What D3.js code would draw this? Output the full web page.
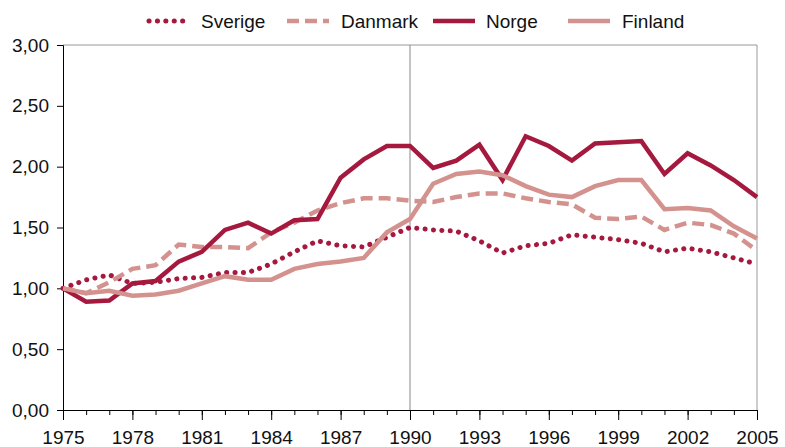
<!DOCTYPE html>
<html>
<head>
<meta charset="utf-8">
<script src="https://d3js.org/d3.v7.min.js"></script>
<style>
  body { margin: 0; background: #fff; }
  svg text { font-family: "Liberation Sans", Arial, sans-serif; font-size: 19px; fill: #111; }
  .axis path, .axis line { stroke: #000; stroke-width: 1; }
</style>
</head>
<body>
<div id="chart"></div>
<script>
// data (index, 1975 = 1,00)
var years = [1975, 1976, 1977, 1978, 1979, 1980, 1981, 1982, 1983, 1984, 1985, 1986, 1987, 1988, 1989, 1990,
             1991, 1992, 1993, 1994, 1995, 1996, 1997, 1998, 1999, 2000, 2001, 2002, 2003, 2004, 2005];
var sverige = [1.00, 1.07, 1.11, 1.04, 1.05, 1.08, 1.09, 1.13, 1.13, 1.20, 1.30, 1.39, 1.35, 1.34, 1.42, 1.50,
               1.48, 1.47, 1.39, 1.29, 1.35, 1.37, 1.44, 1.42, 1.40, 1.37, 1.30, 1.33, 1.30, 1.25, 1.20];
var danmark = [1.00, 0.96, 1.05, 1.16, 1.19, 1.36, 1.34, 1.34, 1.33, 1.46, 1.54, 1.64, 1.70, 1.74, 1.74, 1.72,
               1.71, 1.75, 1.78, 1.78, 1.74, 1.71, 1.69, 1.58, 1.57, 1.59, 1.48, 1.54, 1.52, 1.45, 1.31];
var norge   = [1.00, 0.89, 0.90, 1.04, 1.06, 1.22, 1.30, 1.48, 1.54, 1.45, 1.56, 1.57, 1.91, 2.06, 2.17, 2.17,
               1.99, 2.05, 2.18, 1.89, 2.25, 2.17, 2.05, 2.19, 2.20, 2.21, 1.94, 2.11, 2.01, 1.89, 1.75];
var finland = [1.00, 0.96, 0.98, 0.94, 0.95, 0.98, 1.04, 1.10, 1.07, 1.07, 1.16, 1.20, 1.22, 1.25, 1.46, 1.57,
               1.86, 1.94, 1.96, 1.93, 1.84, 1.77, 1.75, 1.84, 1.89, 1.89, 1.65, 1.66, 1.64, 1.51, 1.41];
var yTicks = [0, 0.5, 1, 1.5, 2, 2.5, 3];
var xLabelYears = [1975, 1978, 1981, 1984, 1987, 1990, 1993, 1996, 1999, 2002, 2005];
var markYear = 1990;

var dark = "#a5193f", light = "#d4928f";
var series = [
  { name: "Sverige", values: sverige, color: dark,  width: 5,   dash: "0.1 8.3", cap: "round", lx: 147, tx: 201 },
  { name: "Danmark", values: danmark, color: light, width: 4.5, dash: "12 6",    cap: "butt",  lx: 287, tx: 341 },
  { name: "Norge",   values: norge,   color: dark,  width: 4.5, dash: null,      cap: "butt",  lx: 433, tx: 486 },
  { name: "Finland", values: finland, color: light, width: 4.5, dash: null,      cap: "butt",  lx: 568, tx: 622 }
];

var margin = {top: 45, right: 28, bottom: 37, left: 63},
    width  = 785 - margin.left - margin.right,
    height = 447 - margin.top - margin.bottom;

var root = d3.select("#chart").append("svg")
    .attr("width", 785).attr("height", 447);
var svg = root.append("g")
    .attr("transform", "translate(" + margin.left + "," + margin.top + ")");

var xScale = d3.scaleLinear().domain([1975, 2005]).range([0, width]);
var yScale = d3.scaleLinear().domain([0, 3]).range([height, 0]);

// grey frame: top, right and the 1990 marker
svg.append("line").attr("x1", 0).attr("x2", width).attr("y1", 0).attr("y2", 0)
   .attr("stroke", "#999").attr("stroke-width", 1);
svg.append("line").attr("x1", width).attr("x2", width).attr("y1", 0).attr("y2", height)
   .attr("stroke", "#999").attr("stroke-width", 1);
svg.append("line").attr("x1", xScale(markYear)).attr("x2", xScale(markYear)).attr("y1", 0).attr("y2", height)
   .attr("stroke", "#888").attr("stroke-width", 1);

var fmt = function(d) { return d3.format(".2f")(d).replace(".", ","); };

// y axis
svg.append("g").attr("class", "axis")
   .call(d3.axisLeft(yScale).tickValues(yTicks).tickFormat(fmt).tickSize(6).tickPadding(8))
   .call(function(g) { g.attr("font-family", null).attr("font-size", null); });

// x axis: minor ticks each year, major every third year
svg.append("g").attr("class", "axis")
   .attr("transform", "translate(0," + height + ")")
   .call(d3.axisBottom(xScale).tickValues(years).tickFormat("").tickSize(5).tickSizeOuter(0));
svg.append("g").attr("class", "axis")
   .attr("transform", "translate(0," + height + ")")
   .call(d3.axisBottom(xScale).tickValues(xLabelYears).tickFormat(d3.format("d")).tickSize(10).tickPadding(11).tickSizeOuter(0))
   .call(function(g) { g.attr("font-family", null).attr("font-size", null); });

// lines
var line = d3.line()
    .x(function(d, i) { return xScale(years[i]); })
    .y(function(d) { return yScale(d); });

svg.selectAll(".series")
   .data(series)
   .enter()
   .append("path")
   .attr("class", "series")
   .attr("d", function(d) { return line(d.values); })
   .attr("fill", "none")
   .attr("stroke", function(d) { return d.color; })
   .attr("stroke-width", function(d) { return d.width; })
   .attr("stroke-dasharray", function(d) { return d.dash; })
   .attr("stroke-linecap", function(d) { return d.cap; })
   .attr("stroke-linejoin", "miter");

// legend
var legend = root.append("g");
legend.selectAll("line")
   .data(series)
   .enter()
   .append("line")
   .attr("x1", function(d) { return d.cap === "round" ? d.lx + 2 : d.lx; })
   .attr("x2", function(d) { return d.lx + 42; })
   .attr("y1", 21).attr("y2", 21)
   .attr("stroke", function(d) { return d.color; })
   .attr("stroke-width", function(d) { return d.width; })
   .attr("stroke-dasharray", function(d) { return d.dash; })
   .attr("stroke-linecap", function(d) { return d.cap; });
legend.selectAll("text")
   .data(series)
   .enter()
   .append("text")
   .attr("x", function(d) { return d.tx; })
   .attr("y", 28)
   .text(function(d) { return d.name; });
</script>
</body>
</html>
